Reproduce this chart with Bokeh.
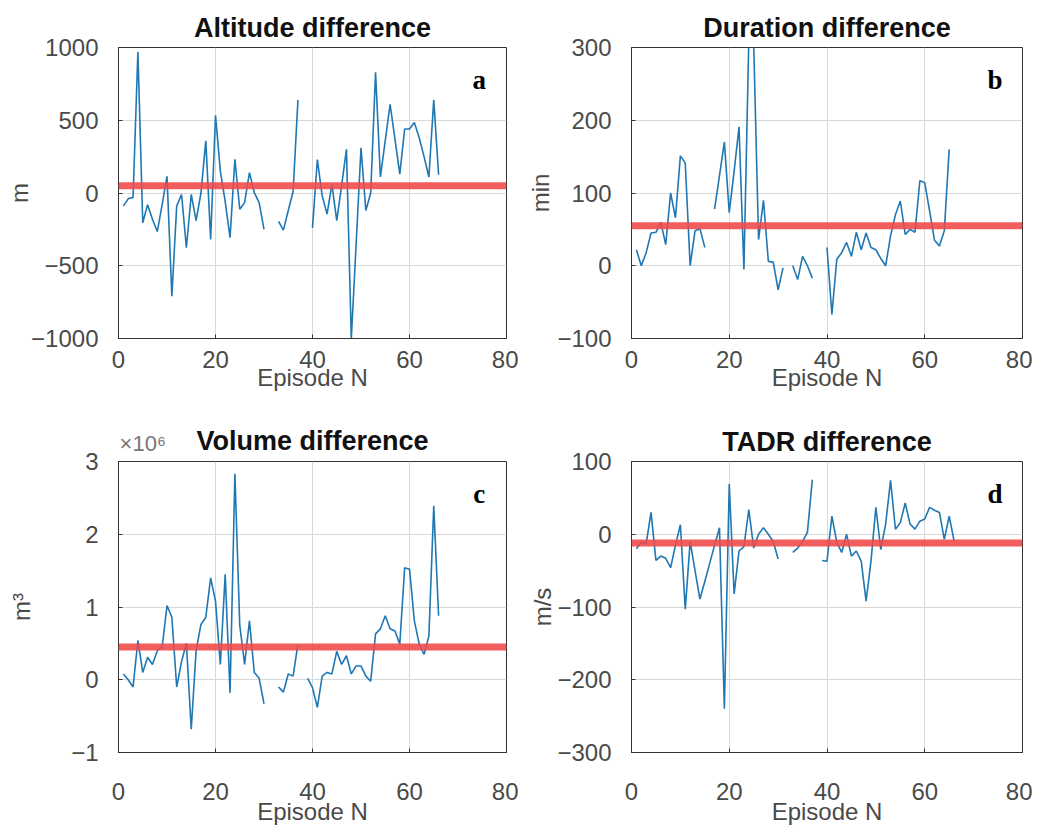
from bokeh.plotting import figure
from bokeh.layouts import column, row
from bokeh.models import Span, Label, FixedTicker, Range1d, LinearAxis
from bokeh.embed import file_html
from bokeh.resources import INLINE

nan = float("nan")

episodes = list(range(1, 67))

altitude = [-90, -40, -30, 970, -205, -80, -180, -265, -80, 115,
            -710, -90, -10, -376, -10, -190, 0, 358, -320, 534,
            150, -60, -307, 232, -112, -66, 140, 2, -66, -250,
            nan, nan, -195, -255, -120, 10, 640, nan, nan, -240,
            230, -20, -145, 60, -190, 50, 300, -1000, -350, 310,
            -120, 0, 830, 110, 360, 610, 370, 130, 440, 440,
            485, 380, 250, 110, 640, 125]

duration = [22, 0, 18, 45, 46, 60, 29, 100, 66, 151,
            141, 0, 48, 51, 25, nan, 78, 124, 170, 73,
            130, 191, -5, 310, 305, 36, 90, 6, 5, -33,
            -3, nan, 0, -19, 13, 0, -17, nan, nan, 25,
            -67, 9, 18, 32, 13, 46, 22, 45, 25, 22,
            10, 0, 41, 70, 89, 43, 50, 46, 117, 114,
            75, 35, 27, 48, 160, nan]

volume = [0.08, 0.0, -0.1, 0.54, 0.1, 0.31, 0.21, 0.4, 0.45, 1.02,
          0.86, -0.1, 0.25, 0.5, -0.68, 0.4, 0.76, 0.86, 1.4, 1.08,
          0.21, 1.45, -0.18, 2.83, 0.75, 0.21, 0.81, 0.1, 0.02, -0.33,
          nan, nan, -0.1, -0.17, 0.08, 0.05, 0.49, nan, 0.02, -0.11,
          -0.38, 0.05, 0.1, 0.08, 0.39, 0.21, 0.33, 0.08, 0.19, 0.19,
          0.05, -0.02, 0.63, 0.7, 0.88, 0.7, 0.67, 0.49, 1.54, 1.52,
          0.81, 0.49, 0.35, 0.6, 2.39, 0.88]

tadr = [-20, -11, -13, 30, -36, -30, -33, -46, -15, 13,
        -103, -10, -50, -89, -65, -40, -15, 9, -240, 69,
        -82, -23, -17, 34, -19, 0, 9, 0, -10, -34,
        nan, nan, -25, -19, -10, 3, 75, nan, -36, -37,
        25, -11, -25, 0, -30, -23, -37, -92, -37, 37,
        -21, 14, 74, 7, 16, 43, 14, 7, 18, 21,
        37, 33, 30, -7, 25, -9]

altitude_mean = 50
duration_mean = 55
volume_mean = 0.45
tadr_mean = -12

x_ticks = [0, 20, 40, 60, 80]
altitude_ticks = [-1000, -500, 0, 500, 1000]
duration_ticks = [-100, 0, 100, 200, 300]
volume_ticks = [-1, 0, 1, 2, 3]
tadr_ticks = [-300, -200, -100, 0, 100]
volume_exponent_label = "\u00d710\u2076"

FONT = "Liberation Sans"
TICK_COLOR = "#4a4a4a"
BLUE = "#1f77b4"
RED = "#f04848"


def make_panel(title, ylabel, y, mean, yticks, letter, w, h, bl, br, bt, bb, ystand,
               xstand, xlabstand, title_standoff=9):
    p = figure(width=w, height=h, x_range=Range1d(0, 80),
               y_range=Range1d(yticks[0], yticks[-1]),
               output_backend="svg", toolbar_location=None,
               min_border_left=bl, min_border_right=br,
               min_border_top=bt, min_border_bottom=bb)
    p.title.text = title
    p.title.align = "center"
    p.title.text_font = FONT
    p.title.text_font_size = "27px"
    p.title.text_font_style = "bold"
    p.title.text_color = "#111111"
    p.title.standoff = title_standoff

    p.xaxis.ticker = FixedTicker(ticks=x_ticks)
    p.yaxis.ticker = FixedTicker(ticks=yticks)
    for ax in (p.xaxis[0], p.yaxis[0]):
        ax.major_label_text_font = FONT
        ax.major_label_text_font_size = "24px"
        ax.major_label_text_color = TICK_COLOR
        ax.axis_label_text_font = FONT
        ax.axis_label_text_font_size = "24px"
        ax.axis_label_text_font_style = "normal"
        ax.axis_label_text_color = TICK_COLOR
        ax.axis_line_color = "#333333"
        ax.major_tick_line_color = "#333333"
        ax.major_tick_in = 4
        ax.major_tick_out = 0
        ax.minor_tick_line_color = None
    p.xaxis.axis_label = "Episode N"
    p.xaxis.major_label_standoff = xstand
    p.xaxis.axis_label_standoff = xlabstand
    p.yaxis.axis_label = ylabel
    p.yaxis.major_label_standoff = 20
    p.yaxis.axis_label_standoff = ystand

    p.xgrid.grid_line_color = "#d8d8d8"
    p.ygrid.grid_line_color = "#d8d8d8"
    p.outline_line_color = "#333333"
    p.outline_line_width = 1
    p.background_fill_color = "white"
    p.border_fill_color = "white"

    p.line(episodes, y, line_color=BLUE, line_width=1.6)
    p.add_layout(Span(location=mean, dimension="width", line_color=RED,
                      line_width=7, line_alpha=0.88))

    span = yticks[-1] - yticks[0]
    p.add_layout(Label(x=74.4, y=yticks[-1] - 0.11 * span, text=letter,
                       text_font="Liberation Serif", text_font_style="bold",
                       text_font_size="27px", text_align="center",
                       text_baseline="middle", text_color="black"))
    return p


pa = make_panel("Altitude difference", "m", altitude, altitude_mean, altitude_ticks,
                "a", 518, 414, 118, 12, 47, 76, -5, 12, -7)
pb = make_panel("Duration difference", "min", duration, duration_mean, duration_ticks,
                "b", 514, 414, 113, 10, 47, 76, 0, 12, -7)
pc = make_panel("Volume difference", "m\u00b3", volume, volume_mean, volume_ticks,
                "c", 518, 413, 118, 12, 47, 75, 33, 30, -5, title_standoff=-56)
pd = make_panel("TADR difference", "m/s", tadr, tadr_mean, tadr_ticks,
                "d", 514, 413, 113, 10, 47, 75, -2, 30, -5)

exp_axis = LinearAxis(ticker=FixedTicker(ticks=[5.0]),
                      major_label_overrides={5.0: volume_exponent_label},
                      major_label_text_font=FONT, major_label_text_font_size="22px",
                      major_label_text_color="#777777", major_label_standoff=6,
                      axis_line_color=None, major_tick_line_color=None,
                      minor_tick_line_color=None, major_tick_out=0, major_tick_in=0)
pc.add_layout(exp_axis, "above")

layout = column(row(pa, pb), row(pc, pd))
open("out.html", "w").write(file_html(layout, INLINE))
